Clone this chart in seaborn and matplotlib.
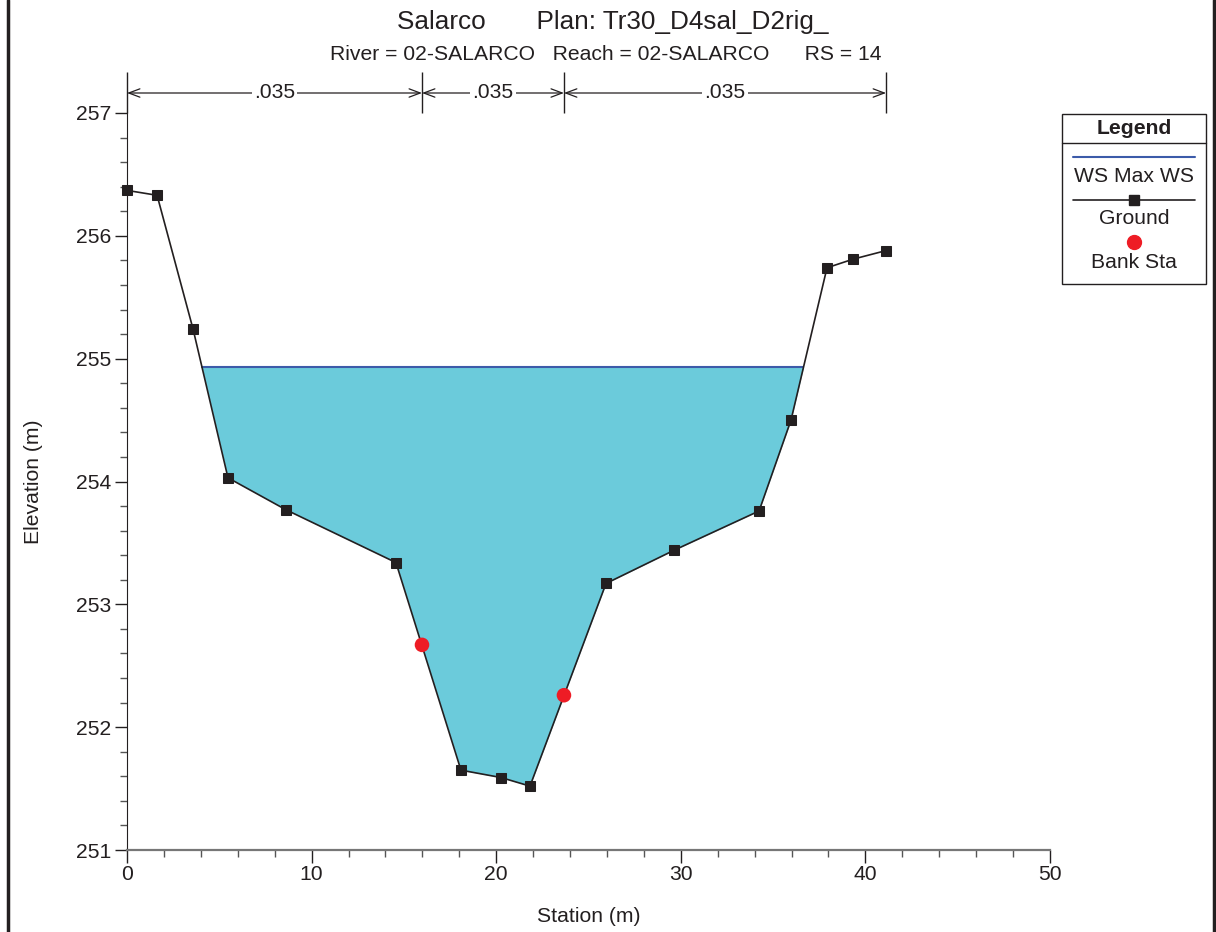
import numpy as np
import matplotlib
matplotlib.use("Agg")
import matplotlib.pyplot as plt
import matplotlib.transforms as mtransforms
from matplotlib.lines import Line2D
from matplotlib.patches import Rectangle
from matplotlib.ticker import MultipleLocator
import seaborn as sns
import pandas as pd

# ---- data ----
station = [0.0, 1.63, 3.58, 5.47, 8.61, 14.57, 18.09, 20.26, 21.83,
           25.95, 29.63, 34.24, 35.97, 37.92, 39.33, 41.12]
elevation = [256.37, 256.33, 255.24, 254.03, 253.77, 253.34, 251.65, 251.59,
             251.52, 253.17, 253.44, 253.76, 254.50, 255.74, 255.81, 255.88]
bank_station = [15.98, 23.67]
bank_elev = [252.67, 252.26]
ws_elev = 254.93
n_breaks = [0.0, 15.98, 23.67, 41.12]
n_values = [".035", ".035", ".035"]
title_text = "Salarco       Plan: Tr30_D4sal_D2rig_"
subtitle_text = "River = 02-SALARCO   Reach = 02-SALARCO      RS = 14"

sns.set_style("ticks")
plt.rcParams['font.family'] = ['Liberation Sans', 'DejaVu Sans']

FS = 15.2
W, H = 1216, 932
fig = plt.figure(figsize=(W / 100, H / 100), dpi=100)
ax = fig.add_axes([127 / W, 1 - 850 / H, (1050 - 127) / W, (850 - 113) / H])

st = np.array(station)
el = np.array(elevation)

# water fill
ax.fill_between(st, el, ws_elev, where=el < ws_elev, interpolate=True,
                color="#6BCBDB", linewidth=0, zorder=1)
# WS line: from crossings
below = el < ws_elev
idx = np.where(below)[0]
i0, i1 = idx[0], idx[-1]
xl = np.interp(ws_elev, [el[i0], el[i0 - 1]], [st[i0], st[i0 - 1]])
xr = np.interp(ws_elev, [el[i1], el[i1 + 1]], [st[i1], st[i1 + 1]])
ax.plot([xl, xr], [ws_elev, ws_elev], color="#3C5BA9", lw=1.5, zorder=2)

df = pd.DataFrame({"Station": station, "Elevation": elevation})
sns.lineplot(data=df, x="Station", y="Elevation", ax=ax, sort=False,
             color="#231F20", lw=1.2, marker="s", markersize=6.5,
             markeredgecolor="#231F20", zorder=3, clip_on=False)
bdf = pd.DataFrame({"Station": bank_station, "Elevation": bank_elev})
sns.scatterplot(data=bdf, x="Station", y="Elevation", ax=ax, color="#EE1C25",
                s=110, edgecolor="none", zorder=4)

ax.set_xlim(0, 50)
ax.set_ylim(251, 257)
ax.xaxis.set_major_locator(MultipleLocator(10))
ax.xaxis.set_minor_locator(MultipleLocator(2))
ax.yaxis.set_major_locator(MultipleLocator(1))
ax.yaxis.set_minor_locator(MultipleLocator(0.2))
ax.tick_params(which="major", length=9, width=1, colors="#231F20", labelsize=FS, pad=2)
ax.tick_params(which="minor", length=5, width=1, colors="#555555")
sns.despine(ax=ax)
ax.spines["left"].set_color("#231F20")
ax.spines["bottom"].set_color("#777777")
ax.spines["bottom"].set_linewidth(1.6)
ax.set_xlabel("Station (m)", fontsize=FS, labelpad=16, color="#231F20")
ax.set_ylabel("Elevation (m)", fontsize=FS, labelpad=24, color="#231F20")

# Manning n brackets above axes
trans = mtransforms.blended_transform_factory(ax.transData, ax.transAxes)
ytop = (850 - 72) / (850 - 113)
yarr = (850 - 93) / (850 - 113)
ax.vlines(n_breaks, 1.0, ytop, transform=trans, color="#231F20", lw=1, clip_on=False)
for a, b, nv in zip(n_breaks[:-1], n_breaks[1:], n_values):
    ax.annotate("", xy=(b, yarr), xytext=(a, yarr), xycoords=trans, textcoords=trans,
                annotation_clip=False,
                arrowprops=dict(arrowstyle="<->,head_length=0.8,head_width=0.3",
                                color="#231F20", lw=0.9, shrinkA=0, shrinkB=0))
    ax.text((a + b) / 2, yarr, nv, transform=trans, ha="center", va="center",
            fontsize=FS, color="#231F20",
            bbox=dict(facecolor="white", edgecolor="none", pad=1.5))

# titles
fig.text(613 / W, 1 - 22 / H, title_text, ha="center", va="center",
         fontsize=18.8, color="#231F20")
fig.text(606 / W, 1 - 54 / H, subtitle_text, ha="center", va="center",
         fontsize=FS, color="#231F20")

# legend box (manual)
def fx(p): return p / W
def fy(p): return 1 - p / H
fig.add_artist(Rectangle((fx(1062), fy(284)), fx(1206) - fx(1062), fy(114) - fy(284),
                         facecolor="white", edgecolor="#231F20", lw=1, transform=fig.transFigure))
fig.add_artist(Line2D([fx(1062), fx(1206)], [fy(143), fy(143)], color="#231F20", lw=1))
fig.text(fx(1134), fy(128), "Legend", ha="center", va="center", fontsize=FS,
         fontweight="bold", color="#231F20")
fig.add_artist(Line2D([fx(1073), fx(1195)], [fy(157), fy(157)], color="#3C5BA9", lw=1.5))
fig.text(fx(1134), fy(177), "WS Max WS", ha="center", va="center", fontsize=FS, color="#231F20")
fig.add_artist(Line2D([fx(1073), fx(1195)], [fy(200), fy(200)], color="#231F20", lw=1.2))
fig.add_artist(Line2D([fx(1134)], [fy(200)], color="#231F20", marker="s", markersize=6.5, lw=0))
fig.text(fx(1134), fy(219), "Ground", ha="center", va="center", fontsize=FS, color="#231F20")
fig.add_artist(Line2D([fx(1134)], [fy(242)], color="#EE1C25", marker="o", markersize=10, lw=0))
fig.text(fx(1134), fy(262), "Bank Sta", ha="center", va="center", fontsize=FS, color="#231F20")

# frame lines
fig.add_artist(Line2D([fx(8), fx(8)], [0, 1], color="#231F20", lw=2.5))
fig.add_artist(Line2D([fx(1214), fx(1214)], [0, 1], color="#231F20", lw=2.5))

fig.savefig("out.png", dpi=100)
